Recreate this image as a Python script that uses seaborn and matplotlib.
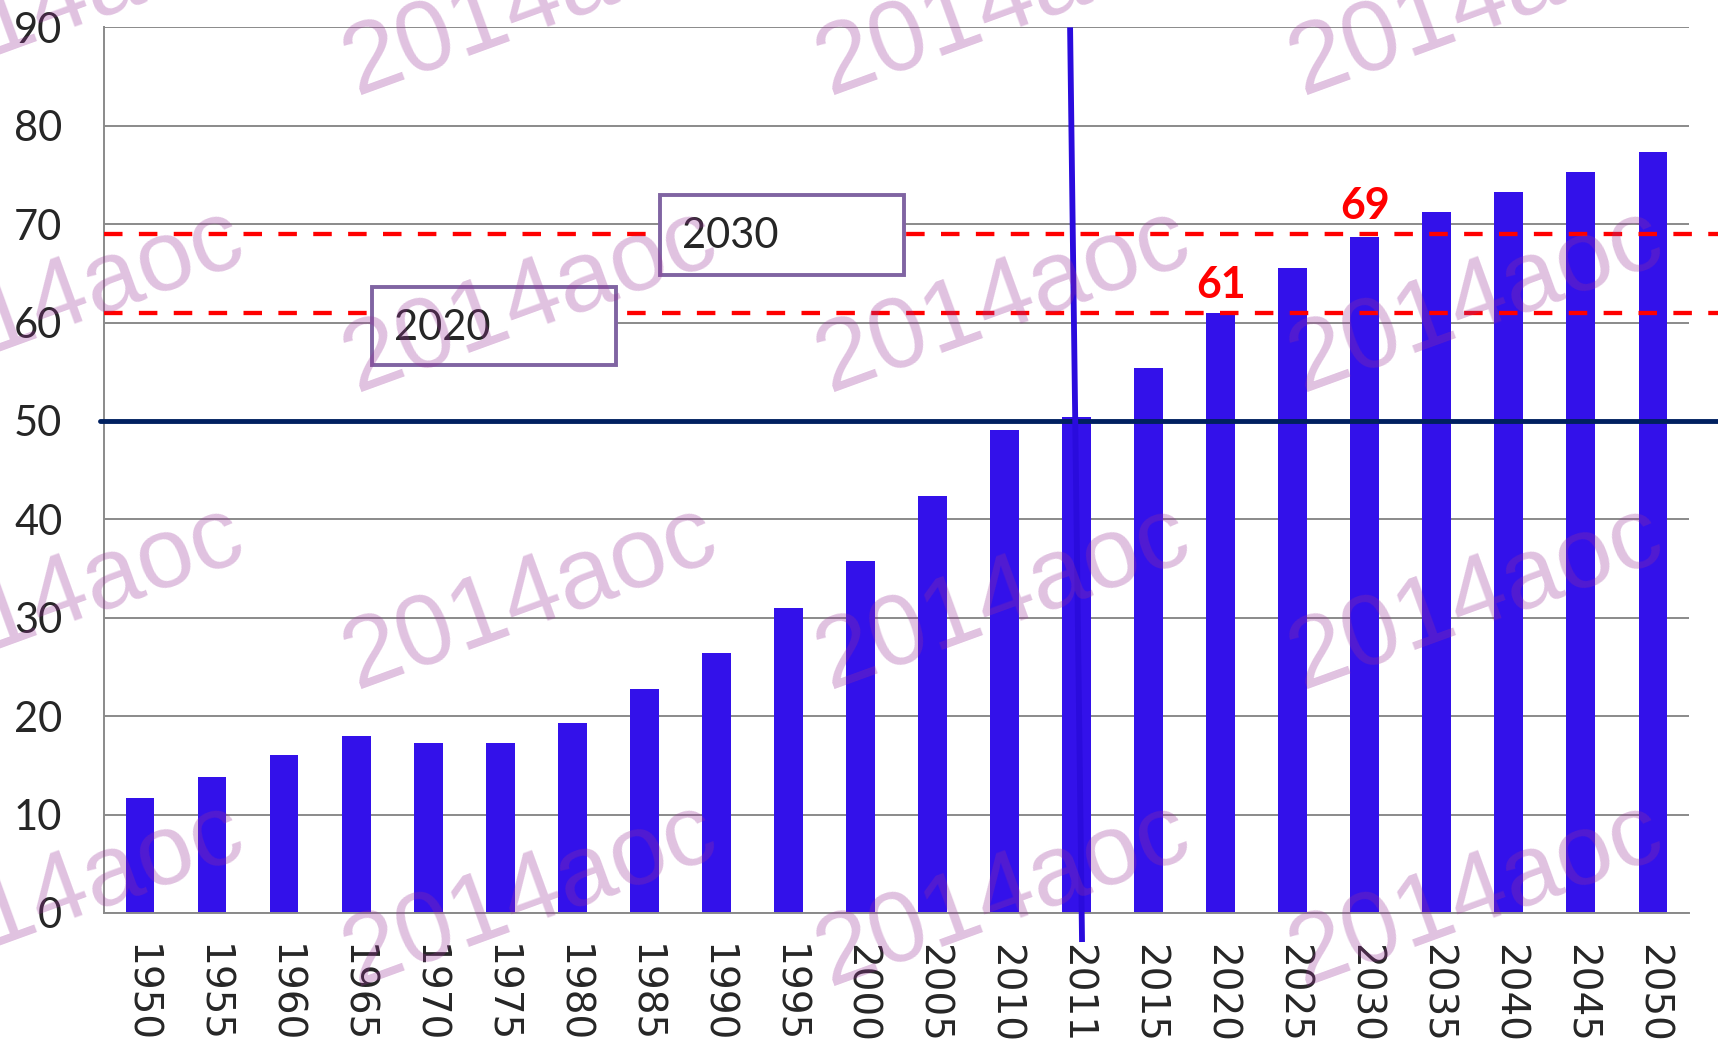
import numpy as np
import seaborn as sns
import matplotlib.pyplot as plt
from matplotlib.patches import Rectangle

# values
years = ['1950', '1955', '1960', '1965', '1970', '1975', '1980', '1985', '1990',
         '1995', '2000', '2005', '2010', '2011', '2015', '2020', '2025', '2030',
         '2035', '2040', '2045', '2050']
share = [11.7, 13.8, 16.1, 18.0, 17.3, 17.3, 19.3, 22.8, 26.4, 31.0, 35.8,
         42.4, 49.1, 50.4, 55.4, 61.0, 65.5, 68.7, 71.2, 73.3, 75.3, 77.3]

target_levels = [61, 69]
target_years = ['2020', '2030']
box_labels = ['2020', '2030']
half_line = 50
marker_year = '2011'
y_ticks = list(range(0, 100, 10))
watermark = '2014aoc'

bar_color = '#3311EA'
red = '#FF0000'
navy = '#002060'
box_edge = '#8064A2'
grid_gray = '#8a8a8a'

sns.set_style('white')
plt.rcParams['font.family'] = ['DejaVu Sans']

fig = plt.figure(figsize=(17.18, 10.44), dpi=100)
ax = fig.add_axes([0.0605, 0.1255, 0.9226, 0.8483])

sns.barplot(x=years, y=share, color=bar_color, saturation=1, width=0.4,
            linewidth=0, ax=ax, zorder=2)

ax.set_xlim(-0.5, len(years) - 0.5)
ax.set_ylim(0, 90)
ax.set_yticks(y_ticks)
ax.set_yticklabels([str(t) for t in y_ticks], fontsize=30, family='Lato')
ax.set_xticks(range(len(years)))
ax.set_xticklabels(years, rotation=270, fontsize=28)
ax.set_xlabel('')
ax.set_ylabel('')
ax.tick_params(axis='y', length=0, pad=30)
ax.tick_params(axis='x', length=0, pad=22)

ax.yaxis.grid(True, color=grid_gray, lw=1.4)
ax.set_axisbelow(True)
for side in ['top', 'right']:
    ax.spines[side].set_visible(False)
for side in ['left', 'bottom']:
    ax.spines[side].set_color(grid_gray)
    ax.spines[side].set_linewidth(1.4)

# reference lines (run past the plot area to the right edge)
x_end = len(years) + 1
ax.plot([-0.55, x_end], [half_line, half_line], color=navy, lw=3.5,
        clip_on=False, zorder=4)
for lvl in target_levels:
    ax.plot([-0.5, x_end], [lvl, lvl], color=red, lw=3.1, ls=(0, (4.3, 3.8)),
            clip_on=False, zorder=4)

# value labels above dashed lines
for lvl, yr in zip(target_levels, target_years):
    ax.text(years.index(yr), lvl + 2.8, str(lvl), color=red, fontsize=31,
            fontweight='bold', family='Lato', ha='center', va='center', zorder=8)

# marker line at 2011 (slightly slanted, as drawn by hand)
m = years.index(marker_year)
ax.plot([m - 0.09, m + 0.076], [90, -2.95], color='#2A0BDD', lw=4.2,
        solid_capstyle='butt', clip_on=False, zorder=5)

# text boxes
boxes = [(3.227, 55.7, 3.379, 7.9, 3.52, 59.45),
         (7.218, 64.8, 3.387, 8.2, 7.52, 68.8)]
for (bx, by, bw, bh, tx, ty), lab in zip(boxes, box_labels):
    ax.add_patch(Rectangle((bx, by), bw, bh, facecolor='white',
                           edgecolor=box_edge, lw=2.8, zorder=6))
    ax.text(tx, ty, lab, fontsize=30, family='Lato', ha='left', va='center',
            zorder=7)

# watermark tiles
for wy in [4, 301, 598, 895]:
    for wx in [57, 530, 1003, 1476]:
        fig.text(wx / 1718, 1 - wy / 1044, watermark, rotation=20,
                 rotation_mode='anchor', ha='center', va='center',
                 fontsize=73, family='Liberation Sans', color='#993399',
                 alpha=0.3, zorder=10)

fig.savefig('out.png', dpi=100)
